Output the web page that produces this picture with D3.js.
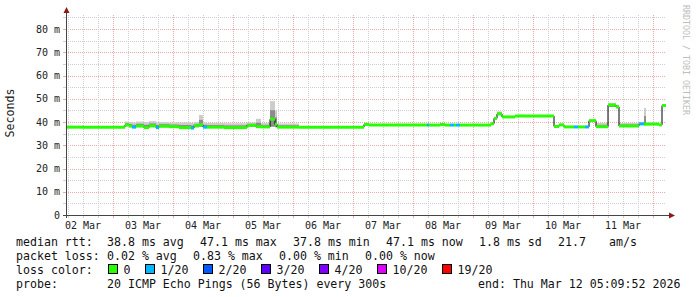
<!DOCTYPE html>
<html><head><meta charset="utf-8">
<script src="https://cdn.jsdelivr.net/npm/d3@7"></script>
<style>
body{margin:0;background:#fff}
text{font-family:"DejaVu Sans Mono",monospace}
</style>
</head><body>
<svg id="c" width="697" height="297"></svg>
<script>
// ---- data (hours from start of window, values in ms) ----
const runStart = [0,6.4,7.2,23.6,25.2,26.4,28,31.2,33.2,36,37.2,41.2,45.2,50,51.2,53.2,54.8,56.4,63.2,72.4,76,78,81.6,83.6,84.4,93.2,119.2,121.2,144.4,145.2,149.6,151.6,153.6,155.2,156,157.6,170,171.2,172.4,174.4,179.6,195.2,197.2,199.2,203.2,204.8,207.6,209.2,212,216.8,220,221.2,229.2,231.2,232,237.2,238.4];
const runMedian = [37.8,37.8,37.8,38.8,38.3,37.8,38.3,37.6,38.4,37.6,38.2,38.0,37.6,37.4,38.4,38.8,37.8,37.8,37.6,38.6,38.0,37.9,41.2,39.0,37.8,37.8,39.0,38.7,38.7,38.7,38.9,38.7,38.7,38.7,38.7,38.7,39.3,41.6,43.5,42.2,42.6,38.1,38.8,37.9,37.9,37.9,37.9,40.6,38.0,47.3,46.5,38.3,39.2,39.1,39.1,38.8,47.1];
const runLow = [37.6,37.6,37.6,38.2,37.8,37.6,37.8,37.4,37.8,37.4,37.8,37.6,37.4,37.2,37.8,38.0,37.6,37.5,37.4,38.0,37.6,37.6,38.0,37.8,37.6,37.6,38.6,38.5,38.5,38.5,38.6,38.5,38.5,38.5,38.5,38.5,39.0,41.2,43.0,42.0,42.4,37.9,38.5,37.7,37.7,37.7,37.7,40.3,37.8,46.5,46.0,38.0,38.8,38.8,38.8,38.6,46.9];
const runHigh = [38.1,38.6,38.1,40.2,40.0,39.8,40.2,40.0,40.4,39.8,40.0,39.8,39.8,39.6,40.0,43.0,39.8,39.6,39.5,39.8,41.4,39.6,49.0,45.0,39.4,38.1,39.4,39.0,39.0,39.0,39.6,39.0,39.0,39.0,39.0,39.0,39.6,42.2,44.6,42.5,42.9,38.4,39.1,38.2,38.2,38.2,38.2,41.0,39.6,48.3,47.5,39.6,39.9,46.0,39.8,39.1,47.3];
const runLoss = [0,0,0,0,0,1,0,0,0,1,0,0,0,1,0,0,1,0,0,0,0,0,0,0,0,0,0,0,1,0,0,0,1,0,1,0,0,0,0,0,0,0,0,0,1,0,1,0,0,0,0,0,1,0,0,0,0];
const totalHours = 240;
const lossLabels = ["0","1/20","2/20","3/20","4/20","10/20","19/20"];
const lossColors = ["#26ff00","#00b8ff","#0059ff","#5e00ff","#7e00ff","#dd00ff","#ff0000"];
const yTicks = [0,10,20,30,40,50,60,70,80];
const yTickLabels = ["0","10 m","20 m","30 m","40 m","50 m","60 m","70 m","80 m"];
const yMax = 86.06;
const startTime = new Date(Date.UTC(2026,2,2,5,9,52));
const endTime = new Date(Date.UTC(2026,2,12,5,9,52));
const medianLegend = ["38.8 ms avg  ","47.1 ms max  ","37.8 ms min  ","47.1 ms now  ","1.8 ms sd  ","21.7   ","am/s"];
const lossLegend = ["0.02 % avg  ","0.83 % max  ","0.00 % min  ","0.00 % now"];
const probeText = "20 ICMP Echo Pings (56 Bytes) every 300s";
const endText = "end: Thu Mar 12 05:09:52 2026";

// ---- drawing ----
const svg = d3.select("#c");
const L = 66, R = 666, T = 15, B = 215;
const x = d3.scaleUtc().domain([startTime, endTime]).range([L, R]);
const y = d3.scaleLinear().domain([0, yMax]).range([B, T]);
const hx = h => x(new Date(startTime.getTime() + h * 3600e3));
const py = v => Math.round(y(v)) + 0.5;

svg.append("rect").attr("width",697).attr("height",297).attr("fill","#fff");

const minorCol = "#cfcfcf", majorCol = "#e8aaaa";
const g = svg.append("g");
for (let v = 5; v <= 85; v += 5) {
  const major = v % 10 === 0;
  g.append("line").attr("x1",L).attr("x2",R).attr("y1",py(v)).attr("y2",py(v))
    .attr("stroke", major ? majorCol : minorCol).attr("stroke-dasharray","1,1");
}
for (let v = 0; v <= 85; v += 5) {
  g.append("line").attr("x1",L-3).attr("x2",L).attr("y1",py(v)).attr("y2",py(v))
    .attr("stroke", v % 10 === 0 ? majorCol : minorCol);
}
const sixHours = d3.utcHour.every(6).range(startTime, endTime);
sixHours.forEach(t => {
  const major = t.getUTCHours() === 0;
  const xx = Math.round(x(t)) + 0.5;
  g.append("line").attr("x1",xx).attr("x2",xx).attr("y1",T).attr("y2",B)
    .attr("stroke", major ? majorCol : minorCol).attr("stroke-dasharray","1,1");
  g.append("line").attr("x1",xx).attr("x2",xx).attr("y1",B).attr("y2",B+3)
    .attr("stroke", major ? majorCol : minorCol);
});

// smoke
const runs = runStart.map((s,i)=>({s, e: i+1<runStart.length ? runStart[i+1] : totalHours,
  m: runMedian[i], lo: runLow[i], hi: runHigh[i], loss: runLoss[i]}));
const sm = svg.append("g");
runs.forEach(r => {
  const x0 = hx(r.s), x1 = hx(r.e);
  sm.append("rect").attr("x",x0).attr("width",x1-x0).attr("y",y(r.hi)).attr("height",y(r.lo)-y(r.hi)).attr("fill","#cccccc");
  const mid = r.m + (r.hi - r.m) * 0.5;
  sm.append("rect").attr("x",x0).attr("width",x1-x0).attr("y",y(mid)).attr("height",Math.max(0,y(r.lo)-y(mid))).attr("fill","#8c8c8c");
});

// median step line
const pts = [];
runs.forEach(r => { pts.push([hx(r.s), y(r.m)]); });
pts.push([hx(totalHours), y(runs[runs.length-1].m)]);
svg.append("path").attr("d", d3.line().curve(d3.curveStepAfter)(pts))
  .attr("fill","none").attr("stroke","#000").attr("stroke-width",1);
const ml = svg.append("g");
runs.forEach(r => {
  ml.append("line").attr("x1",hx(r.s)).attr("x2",hx(r.e)).attr("y1",y(r.m)).attr("y2",y(r.m))
    .attr("stroke", lossColors[r.loss]).attr("stroke-width",3);
});

// axes
svg.append("line").attr("x1",L+0.5).attr("x2",L+0.5).attr("y1",B+3).attr("y2",9).attr("stroke","#444");
svg.append("line").attr("x1",L-3).attr("x2",670).attr("y1",B+0.5).attr("y2",B+0.5).attr("stroke","#444");
svg.append("path").attr("d",`M${L+0.5},7 L${L-2.5},13 L${L+3.5},13 Z`).attr("fill","#8b1a1a");
svg.append("path").attr("d",`M675,${B+0.5} L669,${B-2.5} L669,${B+3.5} Z`).attr("fill","#8b1a1a");

yTicks.forEach((v,i) => {
  svg.append("text").attr("x",60).attr("y",y(v)+3.5).attr("text-anchor","end")
    .attr("font-size","10px").attr("fill","#222").text(yTickLabels[i]);
});
d3.utcDay.range(d3.utcDay.floor(startTime), endTime).forEach(d => {
  const noon = d3.utcHour.offset(d, 12);
  if (noon < startTime || noon > endTime) return;
  svg.append("text").attr("x",x(noon)).attr("y",229).attr("text-anchor","middle")
    .attr("font-size","10px").attr("fill","#222").text(d3.utcFormat("%d %b")(noon));
});

svg.append("text").attr("transform","translate(14,113) rotate(-90)").attr("text-anchor","middle")
  .attr("font-size","11.6px").attr("fill","#222").text("Seconds");
svg.append("text").attr("transform","translate(683,5) rotate(90)").attr("font-size","8.3px")
  .attr("fill","#bdbdbd").text("RRDTOOL / TOBI OETIKER");

const fs = "11.6px", cw = 7;
function row(label, items, yb) {
  svg.append("text").attr("x",16).attr("y",yb).attr("font-size",fs).attr("fill","#111")
    .style("white-space","pre").text(label);
  let xx = 107;
  items.forEach(t => {
    svg.append("text").attr("x",xx).attr("y",yb).attr("font-size",fs).attr("fill","#111")
      .style("white-space","pre").text(t);
    xx += t.length * cw + 2;
  });
}
row("median rtt:", medianLegend, 245.5);
row("packet loss:", lossLegend, 259.5);
svg.append("text").attr("x",16).attr("y",273.5).attr("font-size",fs).attr("fill","#111").text("loss color:");
let lx = 108.5;
lossLabels.forEach((lab,i) => {
  svg.append("rect").attr("x",lx).attr("y",264.5).attr("width",9).attr("height",9)
    .attr("fill",lossColors[i]).attr("stroke","#000");
  svg.append("text").attr("x",lx+15).attr("y",273.5).attr("font-size",fs).attr("fill","#111").text(lab);
  lx += 30 + lab.length * cw;
});
row("probe:", [probeText], 287.5);
svg.append("text").attr("x",478).attr("y",287.5).attr("font-size",fs).attr("fill","#111").text(endText);
</script>
</body></html>
